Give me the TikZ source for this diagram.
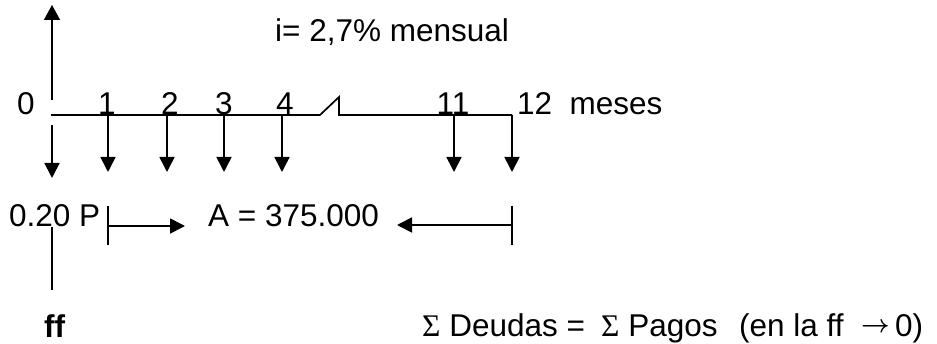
\documentclass[tikz,border=0pt]{standalone}
\usepackage{fontspec}
\setmainfont{Liberation Sans}
\newfontfamily\serifsym{Liberation Serif}
\usetikzlibrary{arrows.meta}
\newcommand{\boldarrow}{\ensuremath{\rightarrow}}
\begin{document}
\begin{tikzpicture}[x=1pt,y=-1pt,
  every node/.style={inner sep=0pt,font=\fontsize{31.5}{36}\selectfont},
  ln/.style={line width=1.7pt},
  arr/.style={ln,-{Triangle[length=15pt,width=15pt]}}]
\useasboundingbox (0,0) rectangle (937,344);
% coordinates on the time line
\coordinate (s) at (51,115);
\coordinate (b1) at (320,115);
\coordinate (b2) at (339,97);
\coordinate (b3) at (339,115);
\coordinate (a12) at (512,115);
\foreach \n/\x in {1/108,2/167,3/224,4/282,11/454}{
  \coordinate (a\n) at (\x,115);
  \coordinate (e\n) at (\x,172);
}
\coordinate (e12) at (512,172);
\coordinate (u0) at (52,100);
\coordinate (ut) at (52,5);
\coordinate (d0) at (52,125);
\coordinate (dt) at (52,178);
% time line with break
\draw[ln,line join=miter] (s) -- (b1) -- (b2) -- (b3) -- (a12);
% arrows
\draw[ln,-{Triangle[length=15pt,width=16pt]}] (u0) -- (ut);
\draw[arr] (d0) -- (dt);
\foreach \n in {1,2,3,4,11,12}{\draw[arr] (a\n) -- (e\n);}
% labels
\node[anchor=base west] (l0) at (17,115) {0};
\node[anchor=base] (l1) at (107,115) {1};
\node[anchor=base] (l2) at (170,115) {2};
\node[anchor=base] (l3) at (224,115) {3};
\node[anchor=base] (l4) at (285,115) {4};
\node[anchor=base] (l11) at (453,115) {11};
\node[anchor=base west] (l12) at (517,115) {12\ \ meses};
\node[anchor=base west] (rate) at (275,42) {i= 2,7\% mensual};
% bottom part
\node[anchor=base west] (p) at (9,227) {0.20 P};
\node[anchor=base west] (A) at (208,227) {A = 375.000};
\coordinate (bl1) at (108,206);
\coordinate (bl2) at (108,245);
\coordinate (bl) at (108,226);
\coordinate (blt) at (185,226);
\coordinate (br1) at (512,206);
\coordinate (br2) at (512,245);
\coordinate (br) at (512,225);
\coordinate (brt) at (397,225);
\draw[ln] (bl1) -- (bl2);
\draw[ln] (br1) -- (br2);
\draw[arr] (bl) -- (blt);
\draw[arr] (br) -- (brt);
\coordinate (f1) at (52,227);
\coordinate (f2) at (52,290);
\draw[ln] (f1) -- (f2);
\node[anchor=base west,font=\fontsize{31.5}{36}\selectfont\bfseries] (ff) at (44,338) {ff};
% equation line
\node[anchor=base west] (eq1) at (422,337) {{\serifsym Σ} Deudas =};
\node[anchor=base west] (eq2) at (601,337) {{\serifsym Σ} Pagos};
\node[anchor=base west] (eq3) at (739,337) {(en la ff};
\node[anchor=base west,font=\fontsize{26}{30}\selectfont\boldmath] (harr) at (861,333) {\boldarrow};
\node[anchor=base west] (eq4) at (895,337) {0)};
\end{tikzpicture}
\end{document}
